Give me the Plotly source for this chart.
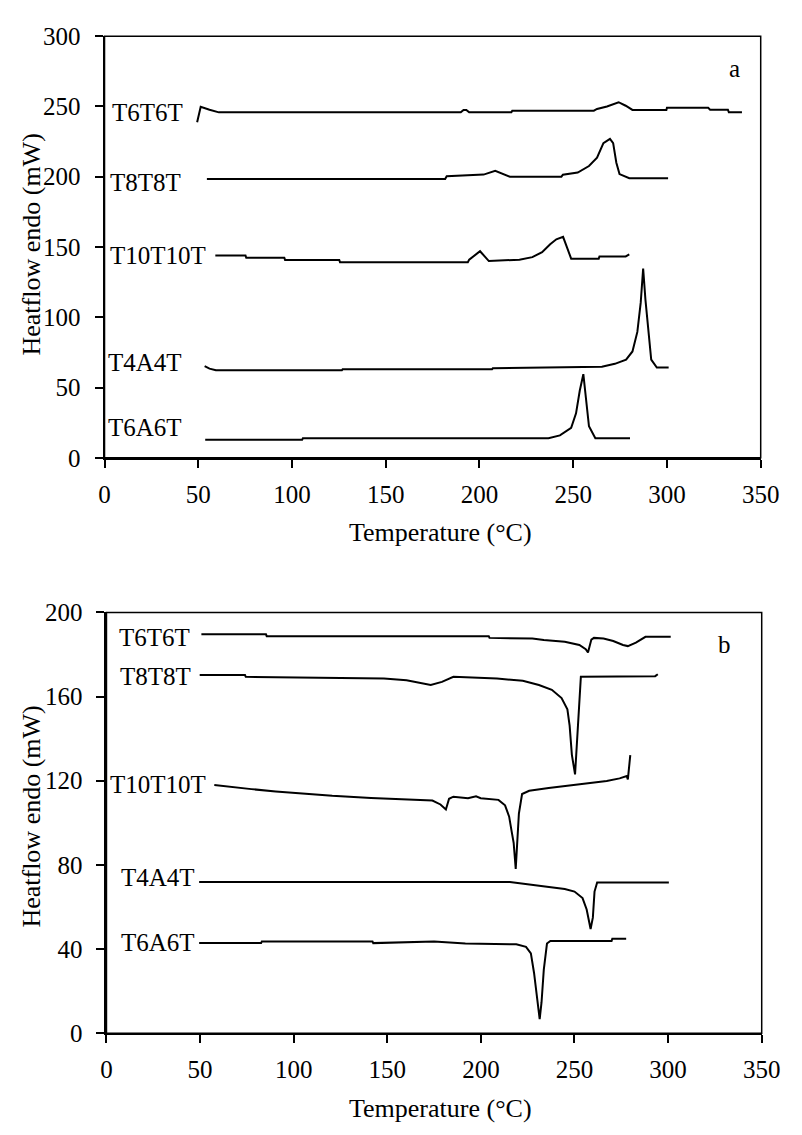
import plotly.graph_objects as go
from plotly.subplots import make_subplots

# ---------------- Panel a: heating scans ----------------
a_t6t6t_T = [49.4, 51.3, 56.0, 61.0, 190.0, 191.5, 193.0, 194.5, 217.0, 217.5, 261.0, 262.7, 268.0, 274.2, 278.0, 281.6, 299.7, 300.0, 322.0, 323.0, 332.5, 333.0, 340.0]
a_t6t6t_Y = [238.7, 249.8, 247.7, 245.8, 245.8, 247.5, 247.5, 245.8, 245.8, 247.0, 247.0, 248.2, 250.0, 253.0, 250.5, 247.5, 247.5, 249.0, 249.0, 247.7, 247.7, 245.8, 245.8]

a_t8t8t_T = [54.6, 181.7, 182.5, 202.2, 208.4, 212.0, 216.2, 243.7, 244.5, 252.4, 258.4, 262.7, 266.1, 269.6, 271.3, 273.0, 274.7, 279.9, 300.6]
a_t8t8t_Y = [198.4, 198.4, 200.3, 201.5, 204.2, 202.0, 200.0, 200.0, 201.4, 203.0, 207.6, 213.5, 223.9, 226.9, 223.9, 210.0, 201.9, 198.9, 198.9]

a_t10t10t_T = [59.1, 75.2, 75.6, 95.9, 96.3, 125.2, 125.6, 193.8, 194.5, 200.3, 205.0, 221.3, 228.2, 233.4, 237.7, 241.0, 244.6, 246.7, 248.9, 263.6, 264.0, 278.0, 279.9]
a_t10t10t_Y = [144.0, 144.0, 142.4, 142.4, 140.8, 140.8, 139.2, 139.2, 141.0, 147.0, 140.0, 141.0, 142.8, 146.3, 152.0, 155.5, 157.2, 149.8, 141.7, 141.7, 143.3, 143.3, 144.7]

a_t4a4t_T = [53.4, 56.0, 59.4, 126.6, 127.0, 206.7, 207.1, 265.3, 272.2, 278.2, 281.6, 284.2, 286.0, 287.3, 288.5, 290.2, 291.6, 294.6, 300.9]
a_t4a4t_Y = [65.3, 63.5, 62.3, 62.3, 63.0, 63.0, 63.7, 64.8, 66.9, 69.9, 75.7, 89.6, 110.4, 134.7, 112.8, 87.3, 69.9, 64.2, 64.2]

a_t6a6t_T = [53.7, 105.4, 105.8, 236.8, 242.9, 248.9, 251.5, 253.5, 255.4, 257.0, 258.4, 261.8, 280.3]
a_t6a6t_Y = [12.8, 12.8, 13.9, 13.9, 16.0, 21.3, 31.7, 47.9, 59.5, 38.7, 22.5, 13.9, 13.9]

# ---------------- Panel b: cooling scans ----------------
b_t6t6t_T = [50.7, 85.2, 85.6, 204.2, 204.6, 227.5, 233.6, 244.8, 252.6, 256.0, 257.2, 259.0, 260.4, 265.5, 270.7, 275.9, 278.5, 282.8, 287.9, 301.4]
b_t6t6t_Y = [189.6, 189.6, 188.7, 188.7, 187.9, 187.6, 186.9, 186.1, 184.5, 182.5, 181.0, 187.1, 187.9, 187.6, 186.4, 184.5, 184.0, 185.6, 188.4, 188.4]

b_t8t8t_T = [49.8, 74.0, 74.4, 148.2, 160.3, 167.2, 173.2, 179.2, 185.3, 208.6, 222.4, 231.0, 237.9, 243.1, 246.2, 247.4, 248.6, 250.3, 251.7, 252.6, 253.4, 293.1, 294.5]
b_t8t8t_Y = [170.2, 170.2, 169.4, 168.6, 167.8, 166.6, 165.5, 167.0, 169.4, 168.6, 167.5, 165.5, 163.2, 159.3, 153.9, 146.2, 132.3, 123.0, 144.6, 161.6, 169.4, 169.7, 170.6]

b_t10t10t_T = [57.6, 63.7, 77.4, 90.4, 103.3, 120.6, 141.3, 174.1, 178.4, 181.3, 183.0, 185.3, 193.1, 197.4, 199.9, 209.4, 212.9, 215.1, 216.4, 217.5, 218.6, 219.5, 220.3, 222.0, 225.8, 236.2, 246.5, 260.3, 267.2, 274.1, 277.9, 278.5, 279.3, 279.8]
b_t10t10t_Y = [118.0, 117.3, 116.0, 114.9, 114.0, 112.8, 111.8, 110.6, 108.7, 106.3, 111.4, 112.4, 111.7, 112.6, 111.7, 110.9, 108.3, 102.9, 96.0, 90.5, 78.1, 90.5, 104.4, 113.7, 115.2, 116.5, 117.6, 119.1, 119.9, 121.1, 122.2, 120.6, 129.1, 132.2]

b_t4a4t_T = [49.5, 215.5, 235.3, 244.8, 250.0, 254.3, 256.5, 258.6, 259.8, 260.7, 262.1, 300.4]
b_t4a4t_Y = [71.8, 71.8, 69.6, 68.5, 67.3, 64.2, 58.8, 49.5, 54.9, 67.3, 71.6, 71.6]

b_t6a6t_T = [49.5, 82.6, 83.0, 142.1, 142.5, 175.0, 191.7, 218.9, 224.1, 226.7, 228.4, 229.8, 231.4, 232.4, 233.6, 235.3, 237.1, 269.8, 270.2, 277.6]
b_t6a6t_Y = [42.8, 42.8, 43.6, 43.6, 42.8, 43.6, 42.6, 42.2, 41.0, 37.9, 28.6, 17.8, 6.6, 14.7, 30.2, 42.6, 43.8, 43.8, 44.9, 44.9]

sample_names = ["T6T6T", "T8T8T", "T10T10T", "T4A4T", "T6A6T"]
x_ticks = [0, 50, 100, 150, 200, 250, 300, 350]
a_y_ticks = [0, 50, 100, 150, 200, 250, 300]
b_y_ticks = [0, 40, 80, 120, 160, 200]

panel_a = [(a_t6t6t_T, a_t6t6t_Y), (a_t8t8t_T, a_t8t8t_Y), (a_t10t10t_T, a_t10t10t_Y),
           (a_t4a4t_T, a_t4a4t_Y), (a_t6a6t_T, a_t6a6t_Y)]
panel_b = [(b_t6t6t_T, b_t6t6t_Y), (b_t8t8t_T, b_t8t8t_Y), (b_t10t10t_T, b_t10t10t_Y),
           (b_t4a4t_T, b_t4a4t_Y), (b_t6a6t_T, b_t6a6t_Y)]

FONT = "Liberation Serif, Times New Roman, serif"

fig = make_subplots(rows=2, cols=1)
for name, (tx, ty) in zip(sample_names, panel_a):
    fig.add_trace(go.Scatter(x=tx, y=ty, mode="lines", name=name, showlegend=False,
                             line=dict(color="black", width=2)), row=1, col=1)
for name, (tx, ty) in zip(sample_names, panel_b):
    fig.add_trace(go.Scatter(x=tx, y=ty, mode="lines", name=name, showlegend=False,
                             line=dict(color="black", width=2)), row=2, col=1)

axis_common = dict(showline=True, linecolor="black", linewidth=2, ticks="outside",
                   ticklen=8, tickwidth=1.5, tickcolor="black", showgrid=False,
                   zeroline=False, tickfont=dict(family=FONT, size=25, color="black"))

fig.update_layout(
    width=802, height=1135, margin=dict(l=0, r=0, t=0, b=0),
    paper_bgcolor="white", plot_bgcolor="white",
    font=dict(family=FONT, color="black"),
    xaxis=dict(domain=[0.1268, 0.9713], range=[0, 350], tickvals=x_ticks, anchor="y",
               ticklabelstandoff=5, **axis_common),
    yaxis=dict(domain=[0.5985, 0.9791], range=[0, 300], tickvals=a_y_ticks, anchor="x",
               ticklabelstandoff=9, **axis_common),
    xaxis2=dict(domain=[0.1293, 0.9726], range=[0, 350], tickvals=x_ticks, anchor="y2",
                ticklabelstandoff=5, **axis_common),
    yaxis2=dict(domain=[0.0793, 0.4590], range=[0, 200], tickvals=b_y_ticks, anchor="x2",
                ticklabelstandoff=9, **axis_common),
)

# thin frame around each panel
for xr, yr in (("x", "y"), ("x2", "y2")):
    fig.add_shape(type="rect", xref=xr + " domain", yref=yr + " domain", x0=0, x1=1, y0=0, y1=1,
                  line=dict(color="black", width=1.5), layer="above")

label_font = dict(family=FONT, size=25, color="black")
label_pos_a = [(43.0, 245.8), (42.0, 196.0), (55.1, 144.0), (42.2, 67.6), (42.2, 21.3)]
label_pos_b = [(45.5, 187.9), (46.4, 169.4), (54.1, 118.3), (48.4, 74.2), (48.4, 43.3)]
for name, (lx, ly) in zip(sample_names, label_pos_a):
    fig.add_annotation(x=lx, y=ly, xref="x", yref="y", text=name, showarrow=False,
                       xanchor="right", yanchor="middle", font=label_font)
for name, (lx, ly) in zip(sample_names, label_pos_b):
    fig.add_annotation(x=lx, y=ly, xref="x2", yref="y2", text=name, showarrow=False,
                       xanchor="right", yanchor="middle", font=label_font)

fig.add_annotation(x=335.9, y=277, xref="x", yref="y", text="a", showarrow=False, font=label_font)
fig.add_annotation(x=330.2, y=184.8, xref="x2", yref="y2", text="b", showarrow=False, font=label_font)

title_font = dict(family=FONT, size=26, color="black")
fig.add_annotation(x=26 / 802, y=1 - 237 / 1135, xref="paper", yref="paper", text="Heatflow endo (mW)",
                   textangle=-90, showarrow=False, xanchor="center", yanchor="middle", font=title_font)
fig.add_annotation(x=26 / 802, y=1 - 823 / 1135, xref="paper", yref="paper", text="Heatflow endo (mW)",
                   textangle=-90, showarrow=False, xanchor="center", yanchor="middle", font=title_font)
fig.add_annotation(x=448 / 802, y=1 - 532 / 1135, xref="paper", yref="paper", text="Temperature (°C)",
                   showarrow=False, xanchor="center", yanchor="middle", font=title_font)
fig.add_annotation(x=448 / 802, y=1 - 1122 / 1135, xref="paper", yref="paper", text="Temperature (°C)",
                   showarrow=False, xanchor="center", yanchor="middle", font=title_font)

fig.write_html("out.html")
